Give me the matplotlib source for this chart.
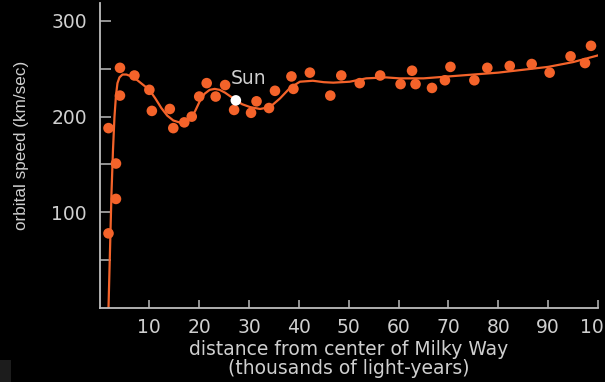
import matplotlib
matplotlib.use('Agg')
import matplotlib.pyplot as plt
from matplotlib.patches import Rectangle

# measured speeds of stars and gas clouds (thousands of light-years, km/sec)
star_dist = [1.8, 1.8, 3.3, 3.3, 4.1, 4.1, 7.0, 10.0, 10.5, 14.1, 14.8, 17.0, 18.5,
             20.0, 21.5, 23.3, 25.2, 27.0, 30.4, 31.5, 34.0, 35.2, 38.5, 38.9,
             42.2, 46.3, 48.5, 52.2, 56.3, 60.4, 62.7, 63.4, 66.7, 69.3, 70.4,
             75.2, 77.8, 82.3, 86.7, 90.3, 94.5, 97.4, 98.6]
star_speed = [78, 188, 114, 151, 222, 251, 243, 228, 206, 208, 188, 194, 200,
              221, 235, 221, 233, 207, 204, 216, 209, 227, 242, 229,
              246, 222, 243, 235, 243, 234, 248, 234, 230, 238, 252,
              238, 251, 253, 255, 246, 263, 256, 274]

# smooth rotation curve
curve_dist = [1.8, 2.1, 2.4, 2.7, 3.0, 3.3, 3.6, 4.0, 4.6, 5.4, 6.4, 7.6, 8.8, 10.0,
              11.2, 12.4, 13.6, 14.8, 16.0, 17.2, 18.2, 19.2, 20.1, 21.1, 22.1,
              23.1, 24.1, 25.2, 26.3, 27.4, 28.6, 30.2, 32.2, 34.2, 36.2, 38.2,
              40.2, 42.8, 45.0, 46.9, 50.2, 53.5, 57.5, 60.2, 65.0, 70.0, 75.0,
              80.0, 85.0, 90.0, 95.0, 100.0]
curve_speed = [0, 60, 120, 165, 200, 222, 235, 241, 244, 244, 242, 238, 233, 228,
               219, 209, 201, 196, 194, 194, 197, 206, 216, 224, 228,
               229, 228, 225, 221, 217, 213, 210, 208, 210, 219, 230,
               236.5, 237.5, 236, 235.5, 236.5, 240, 241, 240, 240, 242, 244,
               246, 249, 252, 257, 264]

sun_dist = 27.35
sun_speed = 217

orange = '#f4632a'
grey = '#cfcfcf'
wide = ['DejaVu Sans']

plt.rcParams['font.family'] = ['Liberation Sans', 'DejaVu Sans']

fig = plt.figure(figsize=(6.05, 3.82), dpi=100, facecolor='black')
ax = fig.add_axes([0.1645, 0.1937, 0.8239, 0.7983])
ax.set_facecolor('black')

ax.plot(curve_dist, curve_speed, color=orange, lw=1.6, zorder=2)
ax.scatter(star_dist, star_speed, s=58, color=orange, edgecolors='none', zorder=3)
ax.scatter([sun_dist], [sun_speed], s=58, color='white', edgecolors='none', zorder=4)
ax.annotate('Sun', (sun_dist, sun_speed), xytext=(-3.5, 11.5), textcoords='offset points',
            color=grey, fontsize=13.5, family=wide)

ax.set_xlim(0, 100)
ax.set_ylim(0, 318.7)
ax.set_xticks(range(10, 101, 10))
ax.set_yticks([100, 200, 300])
ax.set_yticks([50, 150, 250], minor=True)

for side in ['top', 'right']:
    ax.spines[side].set_visible(False)
for side in ['left', 'bottom']:
    ax.spines[side].set_color('#bdbdbd')
    ax.spines[side].set_linewidth(1.3)

ax.tick_params(axis='x', direction='in', length=6, width=1.1, color='#bdbdbd',
               labelcolor=grey, labelsize=13.5, pad=7)
ax.tick_params(axis='y', which='both', direction='in', length=8, width=1.1,
               color='#bdbdbd', labelcolor=grey, labelsize=13.5, pad=9)
for lbl in ax.get_xticklabels() + ax.get_yticklabels():
    lbl.set_family(wide)

ax.set_xlabel('distance from center of Milky Way\n(thousands of light-years)',
              color=grey, fontsize=13.5, linespacing=1.0, family=wide)
ax.xaxis.set_label_coords(0.5005, -0.106)
ax.set_ylabel('orbital speed (km/sec)', color=grey, fontsize=12.3)
ax.yaxis.set_label_coords(-0.1414, 0.534)

fig.patches.append(Rectangle((0, 0), 11 / 605, 22 / 382, transform=fig.transFigure,
                             facecolor='#1c1c1c', edgecolor='none'))

fig.savefig('out.png', dpi=100, facecolor='black')
